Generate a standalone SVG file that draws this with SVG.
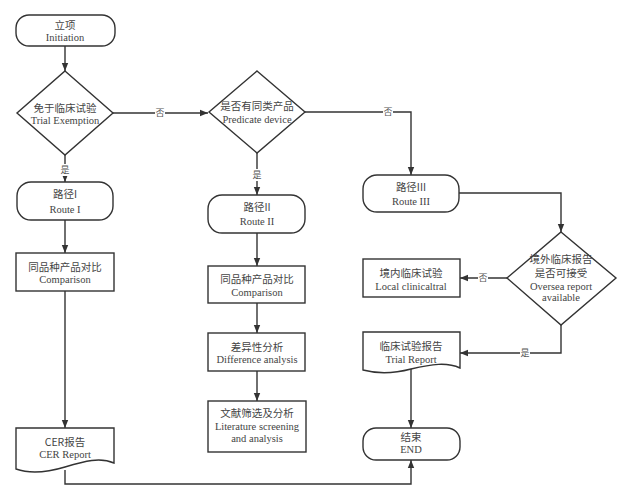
<svg xmlns="http://www.w3.org/2000/svg" width="631" height="500" viewBox="0 0 631 500">
<style>
.n{fill:#fff;stroke:#333;stroke-width:1.4}
.c{fill:none;stroke:#333;stroke-width:1.4}
.zh{font-family:"Noto Sans CJK SC","Noto Sans",sans-serif;font-size:10.5px;fill:#444;text-anchor:middle}
.en{font-family:"Liberation Serif",serif;font-size:10.5px;fill:#444;text-anchor:middle}
.lb{font-family:"Noto Sans CJK SC",sans-serif;font-size:9px;fill:#555;text-anchor:middle}
.bg{fill:#fff}
</style>
<defs>
<marker id="ah" viewBox="0 0 10 10" refX="10" refY="5" markerWidth="8" markerHeight="8" markerUnits="userSpaceOnUse" orient="auto">
<path d="M0,1 L10,5 L0,9 Z" fill="#333"/>
</marker>
</defs>
<rect width="631" height="500" fill="#fff"/>
<g id="connectors">
<path class="c" d="M65,46 V71" marker-end="url(#ah)"/>
<path class="c" d="M113,113 H208" marker-end="url(#ah)"/>
<path class="c" d="M65,155 V182" marker-end="url(#ah)"/>
<path class="c" d="M65,220 V253" marker-end="url(#ah)"/>
<path class="c" d="M65,291 V428" marker-end="url(#ah)"/>
<path class="c" d="M65,470 V484 H411 V460" marker-end="url(#ah)"/>
<path class="c" d="M304,112 H411 V175" marker-end="url(#ah)"/>
<path class="c" d="M257,153 V195" marker-end="url(#ah)"/>
<path class="c" d="M257,233 V266" marker-end="url(#ah)"/>
<path class="c" d="M257,303 V333" marker-end="url(#ah)"/>
<path class="c" d="M257,371 V401" marker-end="url(#ah)"/>
<path class="c" d="M459,193 H561 V232" marker-end="url(#ah)"/>
<path class="c" d="M507,278 H460" marker-end="url(#ah)"/>
<path class="c" d="M561,325 V353 H460" marker-end="url(#ah)"/>
<path class="c" d="M411,369 V428" marker-end="url(#ah)"/>
<rect class="bg" x="155" y="107" width="10" height="12"/><text class="lb" x="160" y="116">否</text>
<rect class="bg" x="60" y="164" width="10" height="12"/><text class="lb" x="65" y="173">是</text>
<rect class="bg" x="383" y="106" width="10" height="12"/><text class="lb" x="388" y="115">否</text>
<rect class="bg" x="252" y="169" width="10" height="12"/><text class="lb" x="257" y="178">是</text>
<rect class="bg" x="478" y="272" width="10" height="12"/><text class="lb" x="483" y="281">否</text>
<rect class="bg" x="520" y="347" width="10" height="12"/><text class="lb" x="525" y="356">是</text>
</g>
<g id="initiation">
<rect class="n" x="16" y="15" width="99" height="31" rx="13"/>
<text class="zh" x="65" y="29">立项</text>
<text class="en" x="65" y="41">Initiation</text>
</g>
<g id="trial-exemption">
<polygon class="n" points="65,71 113,113 65,155 17,113"/>
<text class="zh" x="65" y="112">免于临床试验</text>
<text class="en" x="65" y="124">Trial Exemption</text>
</g>
<g id="route1">
<rect class="n" x="17" y="182" width="96" height="38" rx="14"/>
<text class="zh" x="65" y="198">路径I</text>
<text class="en" x="65" y="213">Route I</text>
</g>
<g id="comparison1">
<rect class="n" x="16" y="253" width="98" height="38"/>
<text class="zh" x="65" y="271">同品种产品对比</text>
<text class="en" x="65" y="283">Comparison</text>
</g>
<g id="cer-report">
<path class="n" d="M16,428 H114 V463 C100,457 85,461 65,467 C45,473 30,474 16,469 Z"/>
<text class="zh" x="65" y="446">CER报告</text>
<text class="en" x="65" y="458">CER Report</text>
</g>
<g id="predicate">
<polygon class="n" points="257,71 305,112 257,153 209,112"/>
<text class="zh" x="257" y="110">是否有同类产品</text>
<text class="en" x="257" y="123">Predicate device</text>
</g>
<g id="route2">
<rect class="n" x="208" y="195" width="97" height="38" rx="14"/>
<text class="zh" x="257" y="211">路径II</text>
<text class="en" x="257" y="225">Route II</text>
</g>
<g id="comparison2">
<rect class="n" x="208" y="266" width="97" height="37"/>
<text class="zh" x="257" y="283">同品种产品对比</text>
<text class="en" x="257" y="296">Comparison</text>
</g>
<g id="difference">
<rect class="n" x="208" y="333" width="97" height="38"/>
<text class="zh" x="257" y="351">差异性分析</text>
<text class="en" x="257" y="363">Difference analysis</text>
</g>
<g id="literature">
<rect class="n" x="208" y="401" width="98" height="51"/>
<text class="zh" x="257" y="417">文献筛选及分析</text>
<text class="en" x="257" y="430">Literature screening</text>
<text class="en" x="257" y="442">and analysis</text>
</g>
<g id="route3">
<rect class="n" x="363" y="175" width="96" height="37" rx="14"/>
<text class="zh" x="411" y="191">路径III</text>
<text class="en" x="411" y="205">Route III</text>
</g>
<g id="oversea">
<polygon class="n" points="561,232 616,278 561,325 507,278"/>
<text class="zh" x="561" y="263">境外临床报告</text>
<text class="zh" x="561" y="277">是否可接受</text>
<text class="en" x="561" y="290">Oversea report</text>
<text class="en" x="561" y="301">available</text>
</g>
<g id="local">
<rect class="n" x="363" y="259" width="97" height="38"/>
<text class="zh" x="411" y="277">境内临床试验</text>
<text class="en" x="411" y="290">Local clinicaltral</text>
</g>
<g id="trial-report">
<path class="n" d="M363,332 H460 V368 C447,362 432,364 411,369 C392,374 378,374 363,370 Z"/>
<text class="zh" x="411" y="350">临床试验报告</text>
<text class="en" x="411" y="363">Trial Report</text>
</g>
<g id="end">
<rect class="n" x="363" y="428" width="97" height="32" rx="13"/>
<text class="zh" x="411" y="441">结束</text>
<text class="en" x="411" y="453">END</text>
</g>
</svg>
